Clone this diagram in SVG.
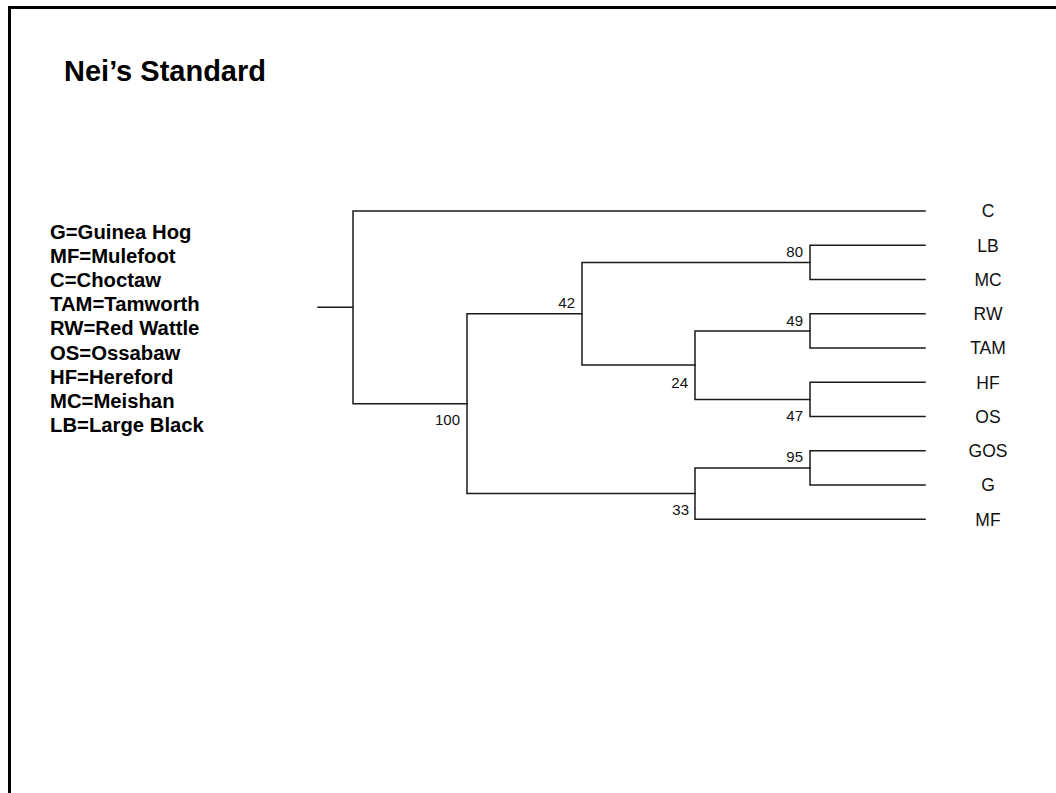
<svg xmlns="http://www.w3.org/2000/svg" width="1056" height="793" viewBox="0 0 1056 793">
<style>
.frame{fill:none;stroke:#000;stroke-width:3}
.br{fill:none;stroke:#1a1a1a;stroke-width:1.5;stroke-linecap:square}
.title{font-family:"Liberation Sans",Arial,sans-serif;font-weight:bold;font-size:29px;fill:#000}
.leg{font-family:"Liberation Sans",Arial,sans-serif;font-weight:bold;font-size:20.3px;fill:#000}
.leaf{font-family:"Liberation Sans",Arial,sans-serif;font-size:17.5px;fill:#111;text-anchor:middle}
.bs{font-family:"Liberation Sans",Arial,sans-serif;font-size:15px;fill:#111;text-anchor:end}
</style>
<rect width="1056" height="793" fill="#fff"/>
<rect class="frame" x="9.5" y="7.5" width="1100" height="900"/>
<g id="title"><text class="title" x="64" y="81">Nei’s Standard</text></g>
<g id="legend">
<text class="leg" x="50" y="238.5">G=Guinea Hog</text>
<text class="leg" x="50" y="262.7">MF=Mulefoot</text>
<text class="leg" x="50" y="286.9">C=Choctaw</text>
<text class="leg" x="50" y="311.1">TAM=Tamworth</text>
<text class="leg" x="50" y="335.3">RW=Red Wattle</text>
<text class="leg" x="50" y="359.5">OS=Ossabaw</text>
<text class="leg" x="50" y="383.7">HF=Hereford</text>
<text class="leg" x="50" y="407.9">MC=Meishan</text>
<text class="leg" x="50" y="432.1">LB=Large Black</text>
</g>
<g id="connectors">
<path class="br" d="M318 307.3H353M353 211V403.7M353 211H925M353 403.7H467"/>
<path class="br" d="M467 313.75V493.6M467 313.75H582M467 493.6H695"/>
<path class="br" d="M582 262.4V365.1M582 262.4H810M582 365.1H695"/>
<path class="br" d="M810 245.25V279.5M810 245.25H925M810 279.5H925"/>
<path class="br" d="M695 330.9V399.4M695 330.9H810M695 399.4H810"/>
<path class="br" d="M810 313.75V348M810 313.75H925M810 348H925"/>
<path class="br" d="M810 382.25V416.5M810 382.25H925M810 416.5H925"/>
<path class="br" d="M695 467.9V519.25M695 467.9H810M695 519.25H925"/>
<path class="br" d="M810 450.75V485M810 450.75H925M810 485H925"/>
</g>
<g id="leaves">
<g id="leaf-C"><text class="leaf" x="988" y="217.3">C</text></g>
<g id="leaf-LB"><text class="leaf" x="988" y="251.5">LB</text></g>
<g id="leaf-MC"><text class="leaf" x="988" y="285.8">MC</text></g>
<g id="leaf-RW"><text class="leaf" x="988" y="320">RW</text></g>
<g id="leaf-TAM"><text class="leaf" x="988" y="354.3">TAM</text></g>
<g id="leaf-HF"><text class="leaf" x="988" y="388.5">HF</text></g>
<g id="leaf-OS"><text class="leaf" x="988" y="422.8">OS</text></g>
<g id="leaf-GOS"><text class="leaf" x="988" y="457">GOS</text></g>
<g id="leaf-G"><text class="leaf" x="988" y="491.3">G</text></g>
<g id="leaf-MF"><text class="leaf" x="988" y="525.5">MF</text></g>
</g>
<g id="support">
<text class="bs" x="460" y="424.5">100</text>
<text class="bs" x="575" y="308">42</text>
<text class="bs" x="803" y="257">80</text>
<text class="bs" x="688" y="388">24</text>
<text class="bs" x="803" y="326">49</text>
<text class="bs" x="803" y="421">47</text>
<text class="bs" x="803" y="461.5">95</text>
<text class="bs" x="689" y="515">33</text>
</g>
</svg>
